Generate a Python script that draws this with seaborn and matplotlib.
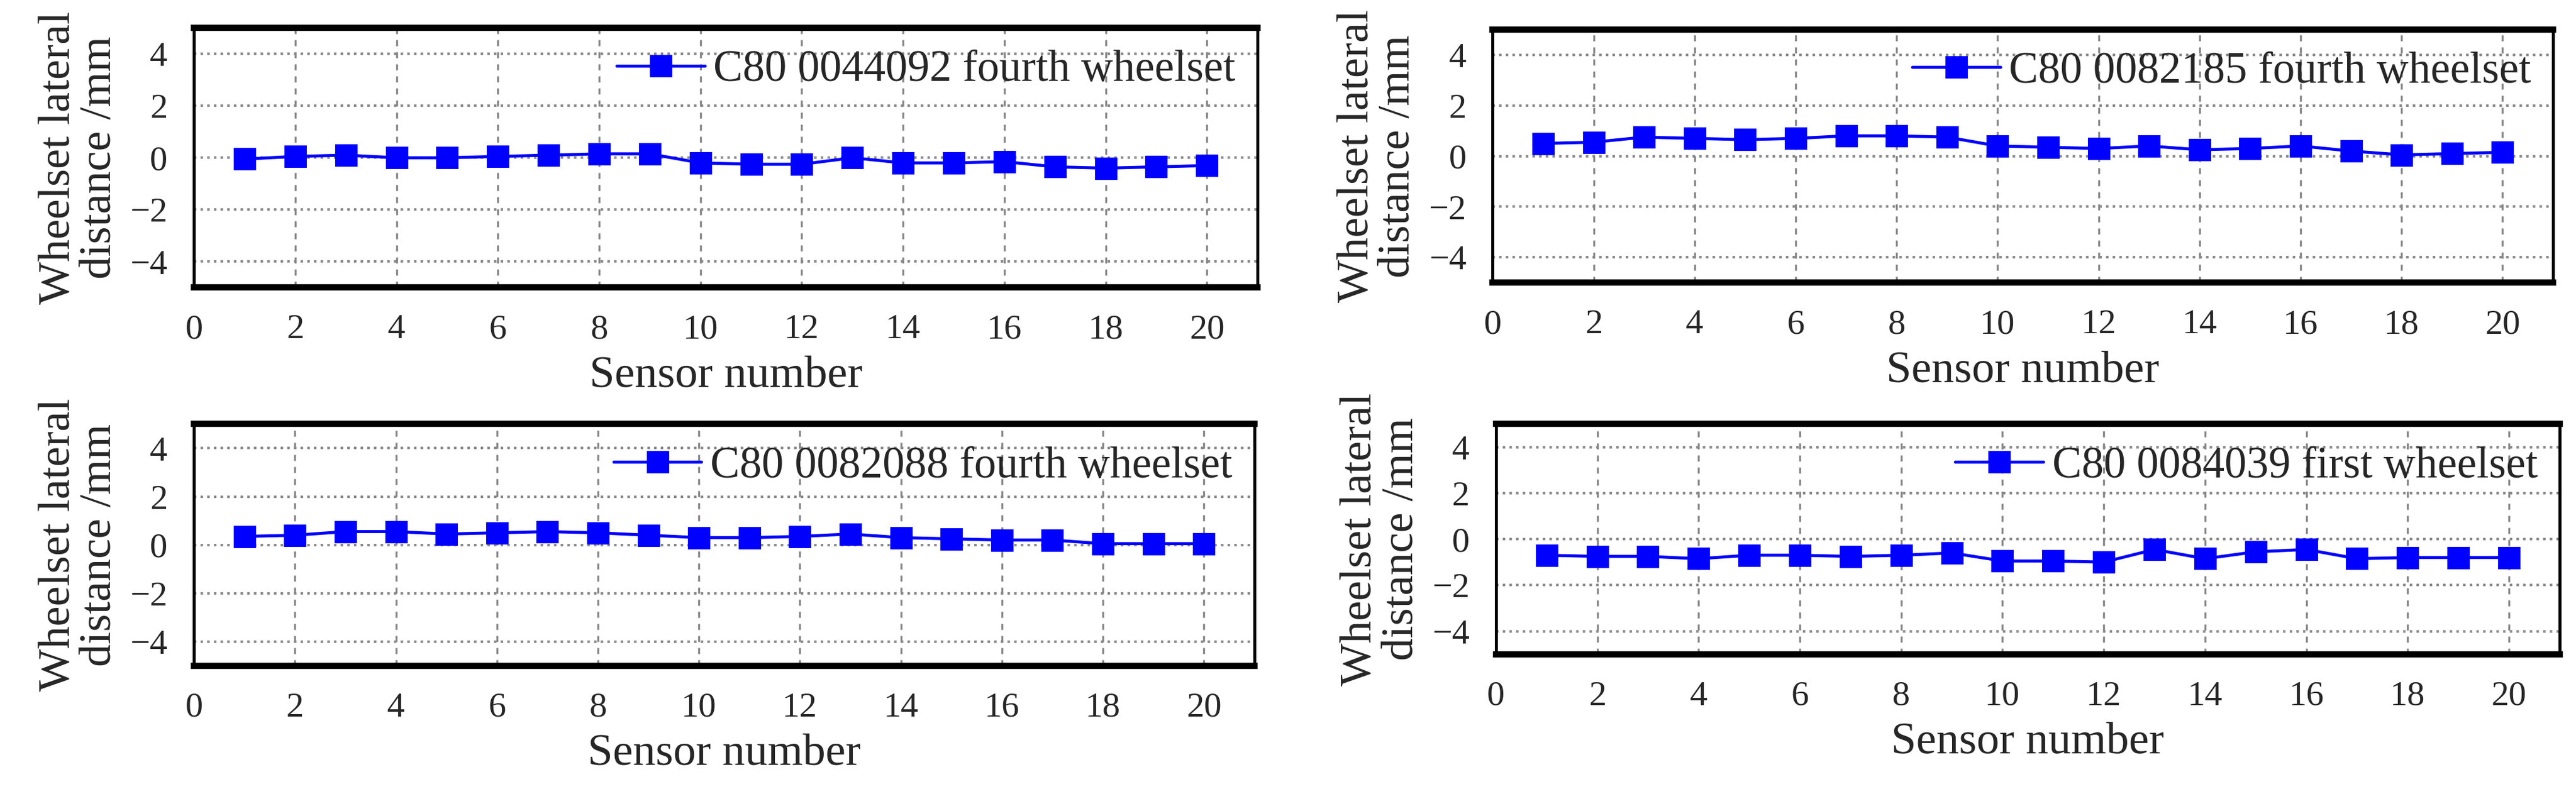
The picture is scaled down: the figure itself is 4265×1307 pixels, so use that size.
import numpy as np
import pandas as pd
import matplotlib
matplotlib.use("Agg")
import matplotlib.pyplot as plt
import seaborn as sns
from matplotlib.ticker import MultipleLocator

sensors = list(range(1, 21))
labels = ["C80 0044092 fourth wheelset", "C80 0082185 fourth wheelset",
          "C80 0082088 fourth wheelset", "C80 0084039 first wheelset"]
v1 = [-0.05, 0.05, 0.1, 0.0, 0.0, 0.05, 0.1, 0.15, 0.15, -0.2,
      -0.25, -0.25, 0.0, -0.2, -0.2, -0.15, -0.35, -0.4, -0.35, -0.3]
v2 = [0.5, 0.55, 0.75, 0.7, 0.65, 0.7, 0.8, 0.8, 0.75, 0.4,
      0.35, 0.3, 0.4, 0.25, 0.3, 0.4, 0.2, 0.05, 0.1, 0.15]
v3 = [0.35, 0.4, 0.55, 0.55, 0.45, 0.5, 0.55, 0.5, 0.4, 0.3,
      0.3, 0.35, 0.45, 0.3, 0.25, 0.2, 0.2, 0.05, 0.05, 0.05]
v4 = [-0.7, -0.75, -0.75, -0.85, -0.7, -0.7, -0.75, -0.7, -0.6, -0.95,
      -0.95, -1.0, -0.45, -0.85, -0.55, -0.45, -0.85, -0.8, -0.8, -0.8]

sns.set_style("white")
plt.rcParams['font.family'] = ['Liberation Serif', 'DejaVu Serif']
plt.rcParams['font.size'] = 17

fig = plt.figure(figsize=(14.217, 4.357), dpi=300)
W, H = 1567, 480
boxes = [(118, 17, 765, 175), (908, 18, 1553, 172),
         (118, 258, 763, 405), (910, 258, 1557, 398)]

for (x0, y0, x1, y1), vals, lab in zip(boxes, [v1, v2, v3, v4], labels):
    ax = fig.add_axes([x0 / W, 1 - y1 / H, (x1 - x0) / W, (y1 - y0) / H])
    df = pd.DataFrame({"sensor": sensors, "value": vals})
    sns.lineplot(data=df, x="sensor", y="value", ax=ax, color="#0000ff", lw=1.2,
                 marker="s", markersize=8, markeredgecolor="#0000ff", label=lab)
    ax.set_xlim(0, 21)
    ax.set_ylim(-5, 5)
    ax.xaxis.set_major_locator(MultipleLocator(2))
    ax.xaxis.set_minor_locator(MultipleLocator(1))
    ax.yaxis.set_major_locator(MultipleLocator(2))
    ax.yaxis.set_minor_locator(MultipleLocator(1))
    ax.set_yticks([-4, -2, 0, 2, 4])
    ax.tick_params(which="major", direction="out", length=7, width=1.2, labelsize=14)
    ax.tick_params(which="minor", direction="out", length=4, width=1.2)
    ax.grid(True, axis="x", ls=(0, (3, 3)), color="#888888", lw=0.8)
    ax.grid(True, axis="y", ls=":", color="#888888", lw=1.0)
    for s in ax.spines.values():
        s.set_linewidth(1.2)
        s.set_color("black")
    ax.spines["top"].set_linewidth(2.5)
    ax.spines["bottom"].set_linewidth(2.5)
    ax.set_xlabel("Sensor number", fontsize=18)
    ax.set_ylabel("Wheelset lateral\ndistance /mm", fontsize=18, linespacing=1.0)
    ax.legend(loc="upper right", frameon=False, fontsize=17.5, handlelength=2.0,
              borderaxespad=0.1, handletextpad=0.2)

fig.savefig("out.png", dpi=300)
